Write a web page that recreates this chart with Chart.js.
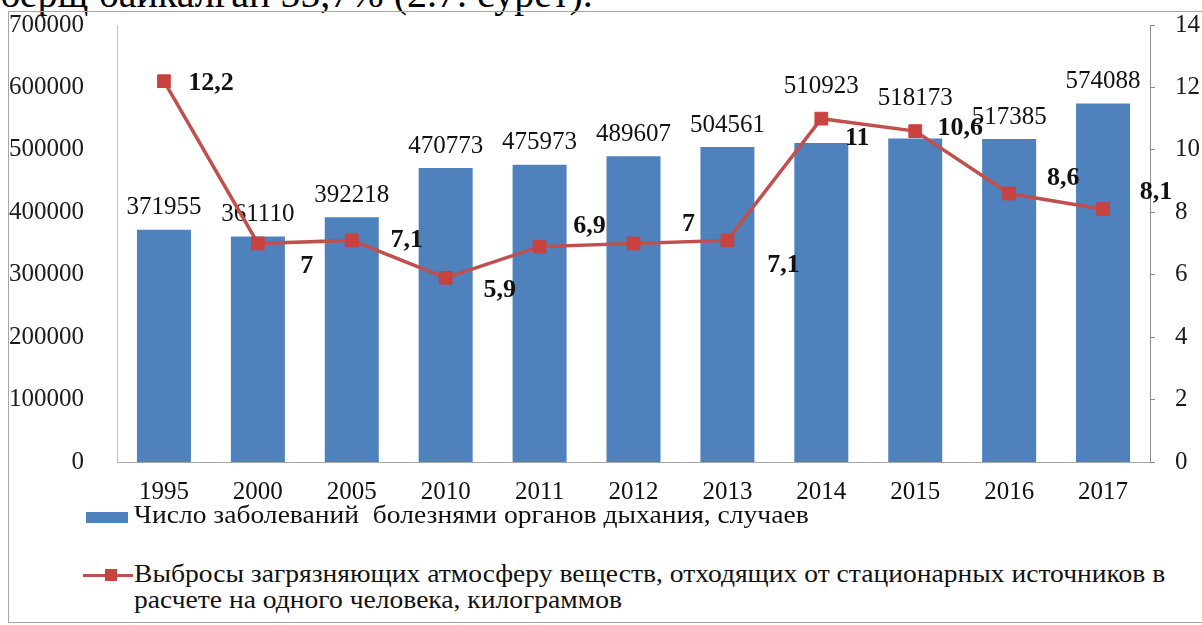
<!DOCTYPE html>
<html>
<head>
<meta charset="utf-8">
<script src="https://cdn.jsdelivr.net/npm/chart.js@4.4.0/dist/chart.umd.min.js"></script>
<style>
  body { margin: 0; width: 1202px; height: 625px; overflow: hidden; background: #fff; position: relative; font-family: "Liberation Serif", serif; color: #111; }
  #caption { position: absolute; left: 0; top: -26px; font-size: 40px; line-height: 40px; white-space: nowrap; color: #000; }
  #frame { position: absolute; left: 8px; top: 11px; width: 1300px; height: 610px; border: 1px solid #a6a6a6; }
  #wrap { position: absolute; left: 9px; top: 12px; width: 1193px; height: 495px; }
  .leg { position: absolute; left: 134px; font-size: 26px; line-height: 26px; white-space: pre; transform: scaleX(1.06); transform-origin: 0 0; }
  #sw1 { position: absolute; left: 86px; top: 512px; width: 42px; height: 11px; background: #4F81BD; }
  #ln2 { position: absolute; left: 83px; top: 574px; width: 50px; height: 3px; background: #C0504D; }
  #mk2 { position: absolute; left: 105px; top: 569px; width: 12px; height: 12px; background: #C8423F; }
</style>
</head>
<body>
<div id="caption">берщ байкалған 55,7% (2.7. сурет).</div>
<div id="frame"></div>
<div id="wrap"><canvas id="chart" width="1193" height="495"></canvas></div>

<div id="sw1"></div>
<div class="leg" id="t1" style="top:502px"></div>
<div id="ln2"></div><div id="mk2"></div>
<div class="leg" id="t2" style="top:561px"></div>

<script>
const years = ['1995', '2000', '2005', '2010', '2011', '2012', '2013', '2014', '2015', '2016', '2017'];

// respiratory disease cases
const cases = [371955, 361110, 392218, 470773, 475973, 489607, 504561, 510923, 518173, 517385, 574088];

// emissions per person, kg
const emissions = [12.2, 7, 7.1, 5.9, 6.9, 7, 7.1, 11, 10.6, 8.6, 8.1];

const casesName = 'Число заболеваний  болезнями органов дыхания, случаев';
const emissionsName = 'Выбросы загрязняющих атмосферу веществ, отходящих от стационарных источников в\nрасчете на одного человека, килограммов';

const casesTicks = [0, 700000, 100000];
const emissionTicks = [0, 14, 2];

// label placement (pixels): bar labels lifted above bar top, line labels shifted from the marker
const barLift = [22, 22, 22, 22, 22, 22, 22, 57, 40, 22, 22];
const lineShift = [[47, 2], [49, 23], [55, 0], [54, 12], [50, -20], [55, -19], [56, 25], [36, 20], [45, -3], [54, -15], [53, -17]];

document.getElementById('t1').textContent = casesName;
document.getElementById('t2').textContent = emissionsName;

const serif = '"Liberation Serif", "Times New Roman", serif';

const valueLabels = {
  id: 'valueLabels',
  afterDatasetDraw(chart, args) {
    const ctx = chart.ctx;
    const meta = args.meta;
    ctx.save();
    ctx.textAlign = 'center';
    ctx.textBaseline = 'middle';
    ctx.fillStyle = '#111';
    if (meta.type === 'bar') {
      ctx.font = '25px ' + serif;
      meta.data.forEach((bar, i) => {
        ctx.fillText(String(cases[i]), bar.x, bar.y - barLift[i]);
      });
    } else {
      ctx.font = 'bold 26px ' + serif;
      meta.data.forEach((pt, i) => {
        ctx.fillText(String(emissions[i]).replace('.', ','), pt.x + lineShift[i][0], pt.y + lineShift[i][1]);
      });
    }
    ctx.restore();
  }
};

// keep the tick label padding from pushing the plot area down
const fitAxis = w => s => { s.width = w; s.paddingTop = 0; s.paddingBottom = 0; };

new Chart(document.getElementById('chart'), {
  data: {
    labels: years,
    datasets: [
      {
        type: 'line',
        label: emissionsName,
        data: emissions,
        yAxisID: 'y1',
        order: 0,
        borderColor: '#C0504D',
        borderWidth: 3.5,
        pointStyle: 'rect',
        pointRadius: 9,
        pointBackgroundColor: '#C8423F',
        pointBorderColor: '#C8423F',
        pointBorderWidth: 1,
        tension: 0
      },
      {
        type: 'bar',
        label: casesName,
        data: cases,
        yAxisID: 'y',
        order: 1,
        backgroundColor: '#4F81BD',
        barPercentage: 0.575,
        categoryPercentage: 1
      }
    ]
  },
  options: {
    responsive: false,
    animation: false,
    devicePixelRatio: 1,
    layout: { padding: { top: 13, left: 0, right: 0, bottom: 0 } },
    plugins: { legend: { display: false }, tooltip: { enabled: false } },
    scales: {
      x: {
        grid: { display: false },
        border: { color: '#a6a6a6' },
        ticks: { font: { family: serif, size: 25 }, color: '#111', padding: 7, maxRotation: 0 },
        afterFit: s => { s.height = 45; }
      },
      y: {
        position: 'left',
        min: casesTicks[0], max: casesTicks[1],
        grid: { display: false },
        border: { color: '#c0c0c0' },
        ticks: { stepSize: casesTicks[2], font: { family: serif, size: 25, lineHeight: 1 }, color: '#1a1a1a', padding: 25, callback: v => String(v) },
        afterFit: fitAxis(108)
      },
      y1: {
        position: 'right',
        min: emissionTicks[0], max: emissionTicks[1],
        grid: { display: true, drawOnChartArea: false, drawTicks: true, tickLength: 5, color: '#8c8c8c' },
        border: { color: '#8c8c8c' },
        ticks: { stepSize: emissionTicks[2], font: { family: serif, size: 25, lineHeight: 1 }, color: '#1a1a1a', padding: 20, callback: v => String(v) },
        afterFit: fitAxis(52)
      }
    }
  },
  plugins: [valueLabels]
});
</script>
</body>
</html>
